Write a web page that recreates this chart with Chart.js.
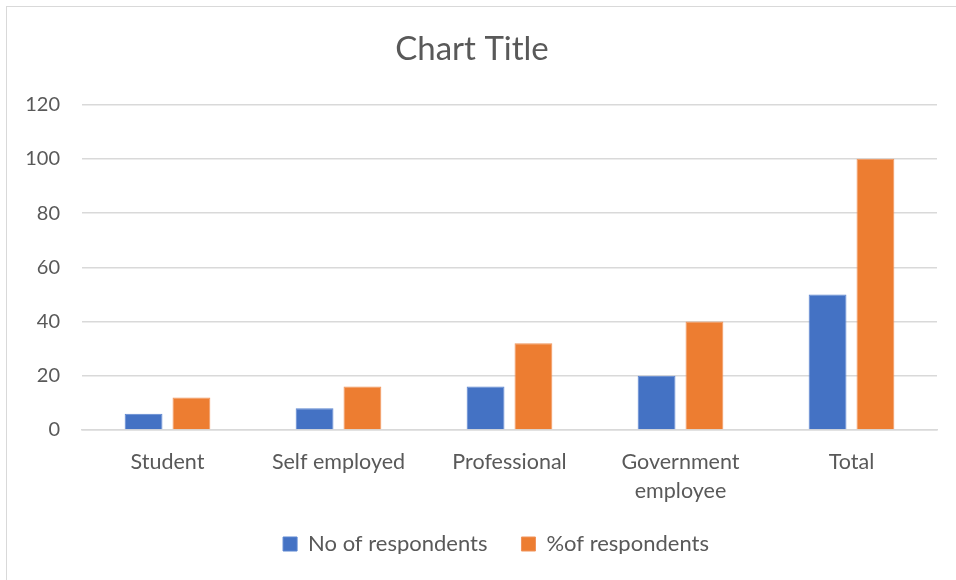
<!DOCTYPE html>
<html>
<head>
<meta charset="utf-8">
<script src="https://cdn.jsdelivr.net/npm/chart.js@4"></script>
<style>
    html, body { margin: 0; padding: 0; background: #fff; overflow: hidden; }
    #box {
        position: absolute;
        left: 6px;
        top: 6px;
        width: 962px;
        height: 580px;
        border: 1.5px solid #d9d9d9;
        box-sizing: border-box;
    }
    #chart { display: block; }
</style>
</head>
<body>
<div id="box"><canvas id="chart" width="959" height="577"></canvas></div>
<script>
// Respondents by occupation
const categories = ["Student", "Self employed", "Professional", ["Government", "employee"], "Total"];
const noOfRespondents = [6, 8, 16, 20, 50];
const pctOfRespondents = [12, 16, 32, 40, 100];
const yTicks = [0, 20, 40, 60, 80, 100, 120];

const textColor = "#595959";
const gridColor = "#d9d9d9";
const fontFamily = "Lato, 'Open Sans', sans-serif";
const legendGap = 34;

// wide gap between legend items, but keep the legend box short and centred
const legendFit = {
    id: "legendFit",
    beforeInit(chart) {
        const legend = chart.legend;
        if (!legend) return;
        const fit = legend.fit;
        legend.fit = function () {
            fit.call(this);
            this.height = 55;
            if (this.lineWidths && this.lineWidths.length) {
                this.lineWidths[0] -= legendGap + 14;
            }
        };
    },
    afterLayout(chart) {
        const legend = chart.legend;
        if (!legend) return;
        legend.top -= 11;
        legend.bottom -= 11;
    },
};

const chart = new Chart(document.getElementById("chart"), {
    type: "bar",
    data: {
        labels: categories,
        datasets: [
            {
                label: "No of respondents",
                data: noOfRespondents,
                backgroundColor: "#4472C4",
                borderColor: "#5b85d0",
                borderWidth: 1,
                categoryPercentage: 0.56,
                barPercentage: 0.79,
            },
            {
                label: "%of respondents",
                data: pctOfRespondents,
                backgroundColor: "#ED7D31",
                borderColor: "#f0935a",
                borderWidth: 1,
                categoryPercentage: 0.56,
                barPercentage: 0.79,
            },
        ],
    },
    plugins: [legendFit],
    options: {
        responsive: false,
        animation: false,
        layout: { padding: { left: 0, right: 29, top: 0, bottom: 19 } },
        plugins: {
            title: {
                display: true,
                text: "Chart Title",
                color: textColor,
                font: { family: fontFamily, size: 33, weight: "normal" },
                padding: { top: 23, bottom: 35 },
            },
            legend: {
                position: "bottom",
                labels: {
                    color: textColor,
                    font: { family: fontFamily, size: 22 },
                    boxWidth: 14,
                    boxHeight: 14,
                    padding: legendGap,
                    useBorderRadius: false,
                },
            },
            tooltip: { enabled: false },
        },
        scales: {
            x: {
                afterFit: (scale) => {
                    scale.height = 80;
                },
                grid: { display: false, drawTicks: false },
                border: { color: gridColor, width: 1.5 },
                ticks: {
                    color: textColor,
                    font: { family: fontFamily, size: 21.5, lineHeight: 1.35 },
                    padding: 18,
                    maxRotation: 0,
                    autoSkip: false,
                },
            },
            y: {
                min: 0,
                max: 120,
                afterBuildTicks: (scale) => {
                    scale.ticks = yTicks.map((v) => ({ value: v }));
                },
                afterFit: (scale) => {
                    scale.width = 75;
                },
                grid: { color: gridColor, lineWidth: 1.5, drawTicks: false },
                border: { display: false },
                ticks: {
                    color: textColor,
                    font: { family: fontFamily, size: 20 },
                    padding: 22,
                },
            },
        },
    },
});
</script>
</body>
</html>
